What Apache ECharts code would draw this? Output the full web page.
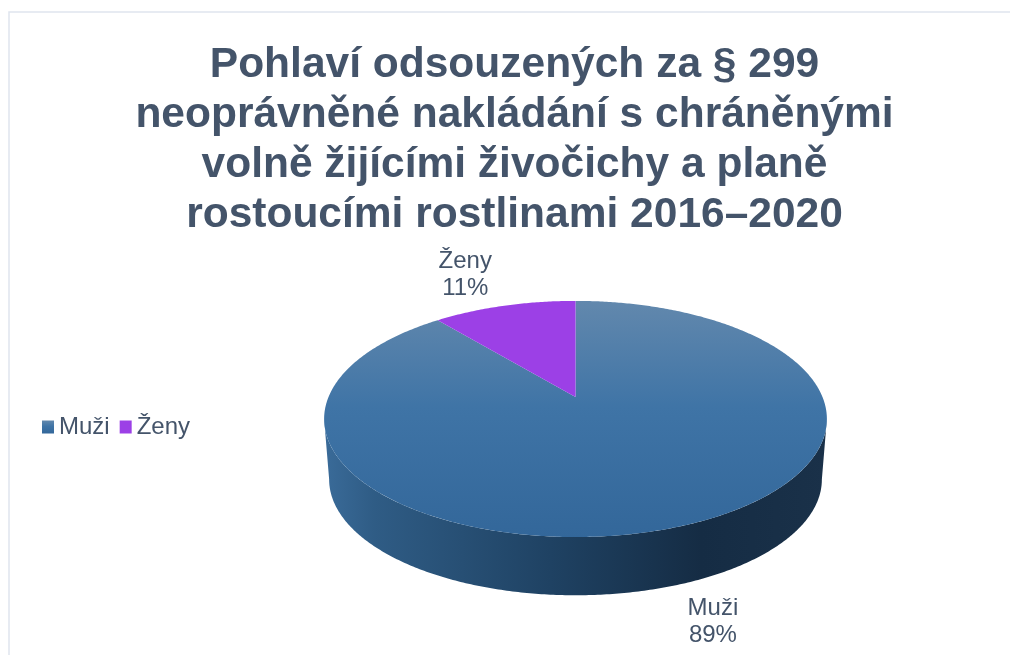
<!DOCTYPE html>
<html><head><meta charset="utf-8">
<style>html,body{margin:0;padding:0;background:#fff}#c{width:1010px;height:655px}</style>
<script src="https://cdn.jsdelivr.net/npm/echarts@6/dist/echarts.min.js"></script>
</head><body><div id="c"></div>
<script>
const titleLines = ['Pohlaví odsouzených za § 299','neoprávněné nakládání s chráněnými','volně žijícími živočichy a planě','rostoucími rostlinami 2016–2020'];
const categories = ['Muži','Ženy'];
const shares = [89, 11];

const textColor = '#44546a';
const geom = {cx:575.5, cy:397, A:247, B:114, k:0.186, dy:61, shrink:0.98};
const faceFill = [
  {type:'linear',x:0,y:0,x2:0,y2:1,colorStops:[{offset:0,color:'#6288ad'},{offset:0.45,color:'#3f74a6'},{offset:1,color:'#33679a'}]},
  '#9c40e6'
];
const wallFill = {type:'linear',x:0,y:0,x2:1,y2:0,colorStops:[{offset:0,color:'#3a6b99'},{offset:0.1,color:'#2f5c85'},{offset:0.45,color:'#1f4263'},{offset:0.75,color:'#152c44'},{offset:1,color:'#1a3149'}]};
const labelOffset = [{dx:36,dy:95},{dx:-39,dy:-31}];

function pt(a, s, dy){
  const X=Math.sin(a), Y=-Math.cos(a), d=1-geom.k*Y;
  return [geom.cx+s*geom.A*X/d, geom.cy+dy+s*geom.B*Y/d];
}
function arc(a0,a1,s,dy){
  const n=Math.max(2,Math.ceil(Math.abs(a1-a0)/0.01)), out=[];
  for(let i=0;i<=n;i++) out.push(pt(a0+(a1-a0)*i/n,s,dy));
  return out;
}
const total = shares.reduce((p,v)=>p+v,0);
let acc=0;
const series = categories.map((name,i)=>{
  const a0=acc/total*2*Math.PI; acc+=shares[i];
  const a1=acc/total*2*Math.PI;
  const pct=Math.round(shares[i]/total*100)+'%';
  return {
    type:'custom', name, coordinateSystem:'none', silent:true,
    itemStyle:{color:faceFill[i]},
    data:[shares[i]],
    renderItem(){
      const kids=[];
      const tan=Math.acos(-geom.k);            // front wall spans the tangent points
      const w0=Math.max(a0,tan), w1=Math.min(a1,2*Math.PI-tan);
      if(w1>w0){
        kids.push({type:'polygon',z2:1,shape:{points:arc(w0,w1,1,0).concat(arc(w1,w0,geom.shrink,geom.dy))},style:{fill:wallFill}});
      }
      kids.push({type:'polygon',z2:2,shape:{points:[[geom.cx,geom.cy]].concat(arc(a0,a1,1,0))},style:{fill:faceFill[i]}});
      const m=pt((a0+a1)/2,1,0);
      kids.push({type:'text',z2:3,style:{x:m[0]+labelOffset[i].dx,y:m[1]+labelOffset[i].dy,text:name+'\n'+pct,
        fill:textColor,font:'24px "Liberation Sans"',lineHeight:27,align:'center',verticalAlign:'middle'}});
      return {type:'group',children:kids};
    }
  };
});

const chart=echarts.init(document.getElementById('c'),null,{renderer:'canvas'});
chart.setOption({
  animation:false,
  backgroundColor:'#fff',
  title:{text:titleLines.join('\n'),left:509.5,top:35,textAlign:'center',
    textStyle:{fontFamily:'"Liberation Sans"',fontWeight:'bold',fontSize:42.5,lineHeight:50,color:textColor}},
  legend:{left:37,top:410,orient:'horizontal',itemWidth:12,itemHeight:13,itemGap:10,selectedMode:false,
    icon:'rect',data:categories,textStyle:{color:textColor,fontSize:24,fontFamily:'"Liberation Sans"',padding:[0,0,0,0]}},
  graphic:[{type:'rect',silent:true,z:-1,shape:{x:9,y:12,width:1100,height:800},style:{fill:'none',stroke:'#dfe5ee',lineWidth:1.5}}],
  series
});
</script></body></html>
